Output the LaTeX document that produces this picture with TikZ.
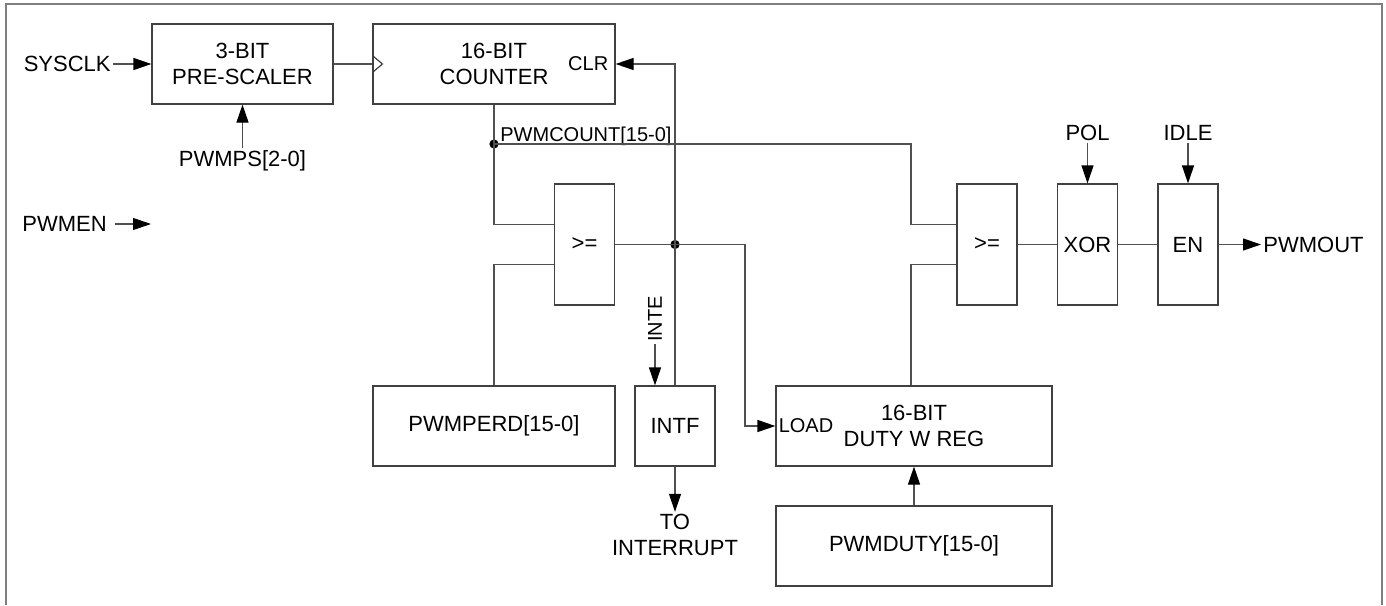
\documentclass[tikz,border=0pt]{standalone}
\usepackage{fontspec}
\setmainfont{Liberation Sans}
\usepackage{xcolor}
\definecolor{pwink}{HTML}{000000}
\definecolor{pwwire}{HTML}{505050}
\definecolor{pwedge}{HTML}{404040}
\definecolor{pwframe}{HTML}{7F7F7F}
\usepackage{tikz}
\usetikzlibrary{arrows.meta,positioning,calc}
\newcommand{\pwbig}{\fontsize{11}{13}\selectfont}
\newcommand{\pwsmall}{\fontsize{10}{12}\selectfont}
\tikzset{
  pwblk/.style  ={rectangle, draw=pwedge, fill=white, line width=0.6pt,
                  inner sep=0pt, align=center, font=\pwbig, text=pwink,
                  minimum height=40pt},
  pwgate/.style ={pwblk, minimum width=30pt, minimum height=60.5pt},
  pwlbl/.style  ={inner sep=1pt, font=\pwbig, text=pwink, align=center},
  pwtag/.style  ={inner sep=1pt, font=\pwsmall, text=pwink},
  pwline/.style ={draw=pwwire, line width=0.6pt},
  pwarrow/.style={pwline, -{Triangle[length=9pt,width=6pt,color=black]}},
  pwdot/.style  ={circle, fill=black, inner sep=0pt, minimum size=4.6pt},
}

\begin{document}
\begin{tikzpicture}[x=0.5pt,y=-0.5pt]
  \useasboundingbox (0,0) rectangle (1386,605);
  \draw[draw=pwframe, line width=1pt] (6,605) -- (6,4) -- (1382,4) -- (1382,605);

  \node[pwblk, minimum width=90.5pt] (pre) at (242.5,64) {3-BIT\\PRE-SCALER};
  \node[pwblk, minimum width=121pt] (cnt) at (494,64) {16-BIT\\COUNTER};
  \node[pwtag, anchor=east] (clr) at ($(cnt.east)+(-5,0)$) {CLR};
  \draw[pwedge, line width=0.6pt] ($(cnt.west)+(0,-8.5)$) -- ($(cnt.west)+(10,0)$)
       -- ($(cnt.west)+(0,8.5)$);
  \node[pwgate] (cmp1) at (584.5,244.5) {>=};
  \node[pwblk, minimum width=121pt] (perd) at (494,426) {PWMPERD[15-0]};
  \node[pwblk, minimum width=40pt] (intf) at (675,426) {INTF};
  \node[pwblk, minimum width=138pt] (duty) at (914,426) {16-BIT\\DUTY W REG};
  \node[pwtag, anchor=west] (load) at ($(duty.west)+(1,0)$) {LOAD};
  \node[pwblk, minimum width=138pt] (pdut) at (914,546) {PWMDUTY[15-0]};
  \node[pwgate] (cmp2) at (987,244.5) {>=};
  \node[pwgate] (xor) at (1087.5,244.5) {XOR};
  \node[pwgate] (en) at (1188,244.5) {EN};

  \node[pwlbl, anchor=east] (sysclk) at (113,64) {SYSCLK};
  \node[pwlbl] (pwmps) at (242.5,161) {PWMPS[2-0]};
  \node[pwlbl, anchor=west] (pwmen) at (20,224) {PWMEN};
  \coordinate (pwmenend) at (151,224);
  \node[pwtag, anchor=base west] (cntlbl) at (498,141) {PWMCOUNT[15-0]};
  \node[pwtag, rotate=90] (inte) at (655,319) {INTE};
  \node[pwlbl] (toint) at (675,535) {TO\\INTERRUPT};
  \node[pwlbl] (pol) at (1087.5,133) {POL};
  \node[pwlbl] (idle) at (1188,133) {IDLE};
  \node[pwlbl, anchor=west] (pwmout) at (1261,244.5) {PWMOUT};

  \node[pwdot] (jcnt) at (494,144) {};
  \node[pwdot] (jcmp) at (675,244.5) {};
  \coordinate (busx) at (911,144);
  \coordinate (loadx) at (745,244.5);

  \draw[pwarrow] (sysclk.east) -- (pre.west);
  \draw[pwarrow] (pwmps.north) -- (pre.south);
  \draw[pwarrow] ($(pwmen.east)+(6,0)$) -- (pwmenend);
  \draw[pwline] (pre.east) -- (cnt.west);
  \draw[pwline] (cnt.south) -- (jcnt.center) |- ([yshift=10pt]cmp1.west);
  \draw[pwline] ([yshift=-10pt]cmp1.west) -| (perd.north);
  \draw[pwline] (jcnt.center) -- (busx) |- ([yshift=10pt]cmp2.west);
  \draw[pwline] (cmp1.east) -- (jcmp.center) -- (intf.north);
  \draw[pwarrow] (jcmp.center) |- (cnt.east);
  \draw[pwarrow] (jcmp.center) -- (loadx) |- (duty.west);
  \draw[pwarrow] (inte.west) -- ([xshift=-10pt]intf.north);
  \draw[pwarrow] (intf.south) -- (toint.north);
  \draw[pwarrow] (pdut.north) -- (duty.south);
  \draw[pwline] ([xshift=-1.5pt]duty.north) |- ([yshift=-10pt]cmp2.west);
  \draw[pwline] (cmp2.east) -- (xor.west);
  \draw[pwline] (xor.east) -- (en.west);
  \draw[pwarrow] (en.east) -- (pwmout.west);
  \draw[pwarrow] (pol.south) -- (xor.north);
  \draw[pwarrow] (idle.south) -- (en.north);
\end{tikzpicture}
\end{document}
